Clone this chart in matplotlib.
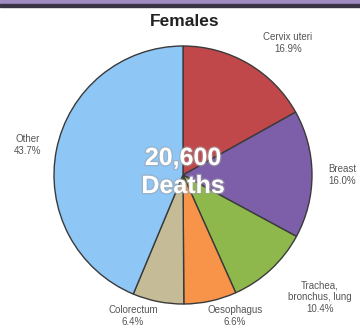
import matplotlib
matplotlib.use("Agg")
import matplotlib.pyplot as plt
import matplotlib.patheffects as pe
from matplotlib.patches import Rectangle

# deaths by cancer site, females
sites = ["Cervix uteri", "Breast", "Trachea,\nbronchus, lung", "Oesophagus", "Colorectum", "Other"]
shares = [16.9, 16.0, 10.4, 6.6, 6.4, 43.7]
colors = ["#c0484b", "#7c5fa8", "#8fb84c", "#f7944a", "#c5bc97", "#8ec6f6"]
total_deaths = "20,600"

# label anchor points (pixels from top-left)
label_pos = [(288, 43), (342, 175), (320, 297), (235, 316), (133, 316), (28, 145)]

W, H = 360, 329
fig = plt.figure(figsize=(W / 100, H / 100), dpi=100)
ax = fig.add_axes([0, 0, 1, 1])

ax.pie(shares, colors=colors, startangle=90, counterclock=False,
       center=(183, H - 175), radius=129,
       wedgeprops=dict(edgecolor="#3a3a3a", linewidth=1))
ax.set_xlim(0, W)
ax.set_ylim(0, H)
ax.set_aspect("equal")
ax.axis("off")

# header band
ax.add_patch(Rectangle((0, H - 3.5), W, 3.5, color="#a08cc0", zorder=5))
ax.add_patch(Rectangle((0, H - 7), W, 3.5, color="#3b3346", zorder=5))

ax.text(185, H - 22, "Females", ha="center", va="center",
        fontsize=12.5, fontweight="bold", family="Liberation Sans", color="#222222")

for name, val, (x, y) in zip(sites, shares, label_pos):
    ax.text(x, H - y, "{}\n{:.1f}%".format(name, val), ha="center", va="center",
            fontsize=7, family="Liberation Sans", color="#555555", linespacing=1.25)

glow = [pe.withStroke(linewidth=2, foreground="#a0a0a0", alpha=0.5)]
ax.text(183, H - 158, total_deaths, ha="center", va="center", fontsize=18,
        fontweight="bold", family="Liberation Sans", color="white", path_effects=glow)
ax.text(183, H - 186, "Deaths", ha="center", va="center", fontsize=18,
        fontweight="bold", family="Liberation Sans", color="white", path_effects=glow)

fig.savefig("out.png", dpi=100)
